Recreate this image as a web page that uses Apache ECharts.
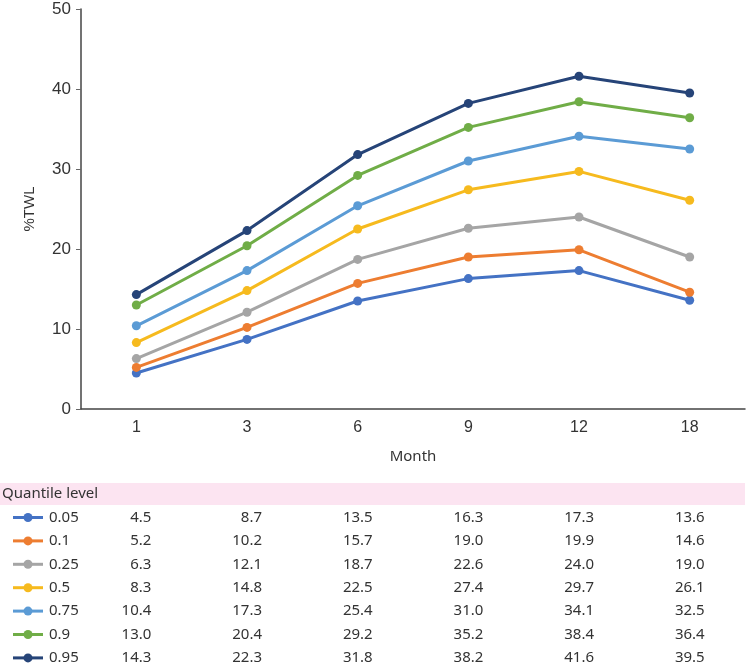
<!DOCTYPE html>
<html><head><meta charset="utf-8">
<script src="https://cdn.jsdelivr.net/npm/echarts@6/dist/echarts.min.js"></script>
<style>html,body{margin:0;padding:0;background:#fff}#c{width:747px;height:664px}</style>
</head><body><div id="c"></div>
<script>
const months = ['1','3','6','9','12','18'];
const quantiles = ['0.05','0.1','0.25','0.5','0.75','0.9','0.95'];
const q005 = [4.5, 8.7, 13.5, 16.3, 17.3, 13.6];
const q010 = [5.2, 10.2, 15.7, 19.0, 19.9, 14.6];
const q025 = [6.3, 12.1, 18.7, 22.6, 24.0, 19.0];
const q050 = [8.3, 14.8, 22.5, 27.4, 29.7, 26.1];
const q075 = [10.4, 17.3, 25.4, 31.0, 34.1, 32.5];
const q090 = [13.0, 20.4, 29.2, 35.2, 38.4, 36.4];
const q095 = [14.3, 22.3, 31.8, 38.2, 41.6, 39.5];
const colors = ['#4472C4','#ED7D31','#A5A5A5','#F6BA1E','#5B9BD5','#70AD47','#264478'];
const allSeries = [q005,q010,q025,q050,q075,q090,q095];

const chart = echarts.init(document.getElementById('c'));
const option = {
  animation:false,
  grid:{left:81,right:2,top:9,bottom:255},
  xAxis:{type:'category',data:months,boundaryGap:true,
    name:'Month',nameLocation:'middle',nameGap:40,
    nameTextStyle:{fontFamily:'Noto Sans',fontSize:15,color:'#333'},
    axisLine:{lineStyle:{color:'#444',width:1.5}},
    axisTick:{alignWithLabel:true,length:5,lineStyle:{color:'#666'}},
    axisLabel:{fontFamily:'Liberation Sans',fontSize:16,color:'#333',margin:11}},
  yAxis:{type:'value',min:0,max:50,interval:10,
    name:'%TWL',nameLocation:'middle',nameGap:44,
    nameTextStyle:{fontFamily:'Liberation Sans',fontSize:15,color:'#333'},
    axisLine:{show:true,lineStyle:{color:'#444',width:1.5}},
    axisTick:{show:true,length:5,lineStyle:{color:'#666'}},
    splitLine:{show:false},
    axisLabel:{fontFamily:'Liberation Sans',fontSize:17,color:'#333',margin:10}},
  series: allSeries.map((d,i)=>({name:quantiles[i],type:'line',data:d,
    symbol:'circle',symbolSize:9,color:colors[i],
    lineStyle:{width:3,color:colors[i]},itemStyle:{color:colors[i]},z:2+i}))
};
chart.setOption(option);

// build table below chart using the x-axis scale for column positions
const g = [];
g.push({type:'rect',shape:{x:0,y:483,width:745,height:22},style:{fill:'#FCE4F1'}});
g.push({type:'text',style:{text:'Quantile level',x:2,y:494,fontFamily:'Noto Sans',fontSize:15,fill:'#333',textVerticalAlign:'middle',verticalAlign:'middle'}});
const rowY0 = 517.5, rowH = 23.4;
allSeries.forEach((d,i)=>{
  const y = rowY0 + i*rowH;
  g.push({type:'line',shape:{x1:13,y1:y,x2:43,y2:y},style:{stroke:colors[i],lineWidth:3}});
  g.push({type:'circle',shape:{cx:28,cy:y,r:4.5},style:{fill:colors[i]}});
  g.push({type:'text',style:{text:quantiles[i],x:49,y:y,fontFamily:'Noto Sans',fontSize:15,fill:'#333',verticalAlign:'middle',textVerticalAlign:'middle'}});
  d.forEach((v,j)=>{
    const px = chart.convertToPixel({xAxisIndex:0}, months[j]);
    g.push({type:'text',style:{text:v.toFixed(1),x:px+15,y:y,align:'right',textAlign:'right',fontFamily:'Noto Sans',fontSize:15,fill:'#333',verticalAlign:'middle',textVerticalAlign:'middle'}});
  });
});
chart.setOption({graphic:{elements:g}});
</script></body></html>
